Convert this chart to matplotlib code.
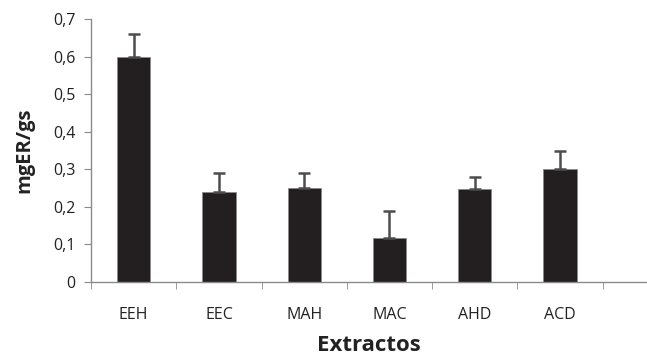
import matplotlib
matplotlib.use('Agg')
import matplotlib.pyplot as plt
from matplotlib.ticker import FuncFormatter, FixedLocator

extractos = ['EEH', 'EEC', 'MAH', 'MAC', 'AHD', 'ACD']
valores = [0.60, 0.24, 0.25, 0.117, 0.248, 0.30]
errores = [0.061, 0.05, 0.04, 0.071, 0.031, 0.049]

plt.rcParams['font.family'] = ['Open Sans', 'DejaVu Sans']

fig = plt.figure(figsize=(6.47, 3.6), dpi=100)
ax = fig.add_axes([0.1407, 0.2167, 0.8593, 0.7305])

x = list(range(len(extractos)))
ax.bar(x, valores, width=0.39, color='#231f20', edgecolor='#8a8a8a', linewidth=0.6,
       yerr=[[0] * len(errores), errores], capsize=4,
       error_kw={'ecolor': '#4d4d4d', 'elinewidth': 1.8, 'capthick': 1.8})

ax.set_ylim(0, 0.7)
ax.set_xlim(-0.5, 6.02)
ax.set_yticks([i / 10 for i in range(8)])
ax.yaxis.set_major_formatter(FuncFormatter(lambda v, p: '0' if v == 0 else f'{v:.1f}'.replace('.', ',')))

# category labels centred, ticks between categories
ax.set_xticks(x)
ax.set_xticklabels(extractos, fontsize=11.5, color='#222222')
ax.tick_params(axis='x', which='major', length=0, pad=18)
ax.xaxis.set_minor_locator(FixedLocator([i - 0.5 for i in range(len(extractos) + 1)]))
ax.tick_params(axis='x', which='minor', length=5, color='#8a8a8a', direction='out')
ax.tick_params(axis='y', length=5, color='#8a8a8a', labelsize=11.5, labelcolor='#222222', pad=6)

for s in ['top', 'right']:
    ax.spines[s].set_visible(False)
for s in ['left', 'bottom']:
    ax.spines[s].set_color('#8a8a8a')
    ax.spines[s].set_linewidth(1.0)

ax.set_ylabel('mgER/gs', fontsize=14.5, fontweight='bold', color='#222222', labelpad=14)
ax.set_xlabel('Extractos', fontsize=16, fontweight='bold', color='#222222', labelpad=9)

fig.savefig('out.png', dpi=100)
